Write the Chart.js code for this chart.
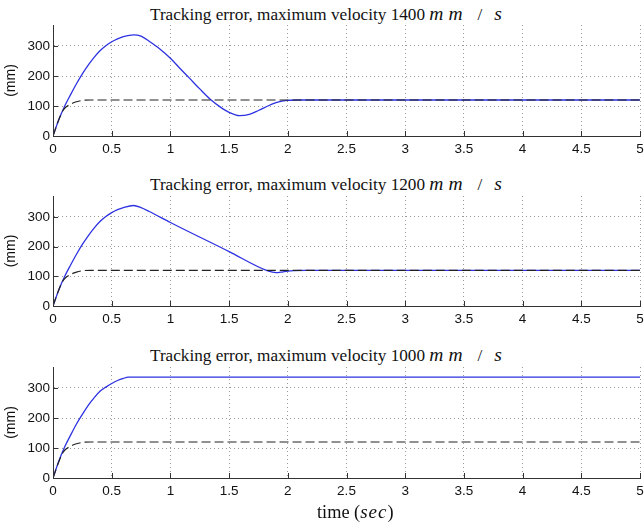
<!DOCTYPE html>
<html>
<head>
<meta charset="utf-8">
<script src="https://cdn.jsdelivr.net/npm/chart.js@4"></script>
<style>
  body { margin: 0; background: #fff; }
  #page { position: relative; width: 644px; height: 526px; overflow: hidden; }
  .box { position: absolute; left: 0; width: 644px; height: 140px; }
  .ttl { position: absolute; font-family: "Liberation Serif", "Times New Roman", serif; font-size: 17.2px;
         color: #111; white-space: nowrap; transform: translateY(-50%); }
  .ttl i { font-size: 19.5px; }
  .gap1 { margin-left: 5px; }
  .gap2 { margin: 0 12px 0 15px; }
  .xl { font-size: 18.3px; }
  .xl i { font-size: 19px; margin-right: 1px; }
</style>
</head>
<body>
<div id="page">
  <div class="ttl" style="left:150px; top:14px">Tracking error, maximum velocity 1400 <i>m</i><i class="gap1">m</i><span class="gap2">/</span><i>s</i></div>
  <div class="box" style="top:20px"><canvas id="c1"></canvas></div>
  <div class="ttl" style="left:150px; top:184px">Tracking error, maximum velocity 1200 <i>m</i><i class="gap1">m</i><span class="gap2">/</span><i>s</i></div>
  <div class="box" style="top:190px"><canvas id="c2"></canvas></div>
  <div class="ttl" style="left:150px; top:355px">Tracking error, maximum velocity 1000 <i>m</i><i class="gap1">m</i><span class="gap2">/</span><i>s</i></div>
  <div class="box" style="top:362px"><canvas id="c3"></canvas></div>
  <div class="ttl xl" style="left:317px; top:512px">time (<i>s</i><i>e</i><i>c</i>)</div>
</div>
<script>
// reference (dashed) curve, same for all three plots
const refTime = [0, 0.05, 0.09, 0.145, 0.2, 0.26, 0.32, 5];
const refError = [0, 55, 88, 105, 114, 119, 120, 120];

// 1400 mm/s
const time1 = [0, 0.05, 0.1, 0.15, 0.2, 0.25, 0.3, 0.35, 0.4, 0.45, 0.5, 0.55, 0.6, 0.685,
               0.75, 0.825, 0.91, 1.0, 1.08, 1.164, 1.25, 1.347, 1.42, 1.5, 1.588, 1.672,
               1.75, 1.83, 1.9, 1.95, 2.0, 2.1, 5];
const error1 = [0, 55, 100, 138, 174, 207, 236, 262, 284, 301, 314, 324, 331, 337,
                333, 314, 290, 259, 226, 192, 157, 120, 98, 79, 68, 72,
                85, 100, 111, 116, 119, 120, 120];

// 1200 mm/s
const time2 = [0, 0.05, 0.1, 0.15, 0.2, 0.25, 0.3, 0.35, 0.4, 0.45, 0.5, 0.55, 0.6, 0.685,
               0.75, 0.82, 1.0, 1.5, 1.83, 1.9, 1.96, 2.05, 2.15, 5];
const error2 = [0, 55, 100, 138, 174, 207, 236, 262, 284, 301, 314, 324, 331, 338,
                331, 318, 281, 183, 118, 112, 115, 119, 120, 120];

// 1000 mm/s
const time3 = [0, 0.05, 0.1, 0.15, 0.2, 0.25, 0.3, 0.35, 0.4, 0.45, 0.5, 0.55, 0.6, 0.64, 5];
const error3 = [0, 57, 104, 143, 180, 212, 242, 267, 289, 303, 315, 325, 332, 336, 336];

const xTicks = [0, 0.5, 1, 1.5, 2, 2.5, 3, 3.5, 4, 4.5, 5];
const yTicks = [0, 100, 200, 300];

function pts(xs, ys) {
    return xs.map((x, i) => ({ x: x, y: ys[i] }));
}

// matlab style ticks pointing into the plot
const inwardTicks = {
    id: 'inwardTicks',
    afterDraw(chart) {
        const ctx = chart.ctx, a = chart.chartArea;
        const xs = chart.scales.x, ys = chart.scales.y;
        ctx.save();
        ctx.strokeStyle = '#333';
        ctx.lineWidth = 1;
        ctx.beginPath();
        xs.ticks.forEach(t => {
            const px = Math.round(xs.getPixelForValue(t.value)) + 0.5;
            ctx.moveTo(px, a.bottom);
            ctx.lineTo(px, a.bottom - 5);
        });
        ys.ticks.forEach(t => {
            const py = Math.round(ys.getPixelForValue(t.value)) + 0.5;
            ctx.moveTo(a.left, py);
            ctx.lineTo(a.left + 5, py);
        });
        ctx.stroke();
        ctx.restore();
    }
};

const tickFont = { family: 'Liberation Sans, Arial, sans-serif', size: 13.5 };

function makeChart(id, xs, ys, padTop) {
    return new Chart(document.getElementById(id), {
        type: 'line',
        data: {
            datasets: [
                {
                    data: pts(refTime, refError),
                    borderColor: '#222',
                    borderWidth: 1.2,
                    borderDash: [9, 4],
                    pointRadius: 0,
                    cubicInterpolationMode: 'monotone',
                    fill: false,
                },
                {
                    data: pts(xs, ys),
                    borderColor: 'rgb(45, 50, 225)',
                    borderWidth: 1.3,
                    pointRadius: 0,
                    cubicInterpolationMode: 'monotone',
                    fill: false,
                }
            ]
        },
        options: {
            responsive: true,
            maintainAspectRatio: false,
            animation: false,
            layout: { padding: { top: padTop, right: 4, left: 0, bottom: 0 } },
            plugins: { legend: { display: false }, tooltip: { enabled: false } },
            scales: {
                x: {
                    type: 'linear',
                    min: 0, max: 5,
                    afterBuildTicks: s => { s.ticks = xTicks.map(v => ({ value: v })); },
                    afterFit: s => { s.height = 24; s.paddingLeft = 0; s.paddingRight = 0; },
                    ticks: { color: '#111', padding: 5, maxRotation: 0, autoSkip: false,
                             callback: v => String(v), font: tickFont },
                    grid: { color: '#999', drawTicks: false },
                    border: { display: true, color: '#333', width: 1, dash: [1, 3] }
                },
                y: {
                    min: 0, max: 370,
                    afterBuildTicks: s => { s.ticks = yTicks.map(v => ({ value: v })); },
                    afterFit: s => { s.width = 53; s.paddingTop = 0; s.paddingBottom = 0; },
                    ticks: { color: '#111', padding: 3, font: tickFont },
                    grid: { color: '#999', drawTicks: false },
                    border: { display: true, color: '#333', width: 1, dash: [1, 3] },
                    title: { display: true, text: '(mm)', color: '#111', padding: { top: 3, bottom: 0 },
                             font: { family: 'Liberation Sans, Arial, sans-serif', size: 14 } }
                }
            }
        },
        plugins: [inwardTicks]
    });
}

makeChart('c1', time1, error1, 5);
makeChart('c2', time2, error2, 6);
makeChart('c3', time3, error3, 5);
</script>
</body>
</html>
